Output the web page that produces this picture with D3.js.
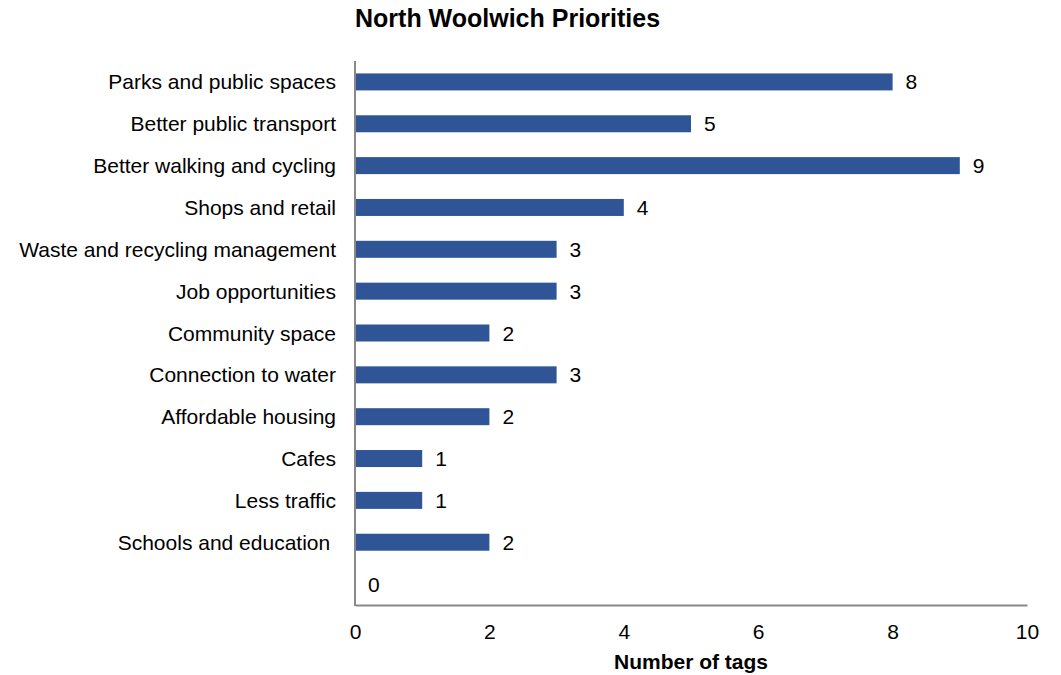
<!DOCTYPE html>
<html>
<head>
<meta charset="utf-8">
<script src="https://cdn.jsdelivr.net/npm/d3@7"></script>
<style>
  html, body { margin: 0; padding: 0; background: #fff; }
  svg text { font-family: "Liberation Sans", Arial, sans-serif; fill: #000; }
</style>
</head>
<body>
<svg id="chart" width="1061" height="675"></svg>
<script>
// Categories top to bottom; the last row is an empty category with a value of 0
const categories = [
  "Parks and public spaces",
  "Better public transport",
  "Better walking and cycling",
  "Shops and retail",
  "Waste and recycling management",
  "Job opportunities",
  "Community space",
  "Connection to water",
  "Affordable housing",
  "Cafes",
  "Less traffic",
  "Schools and education ",
  ""
];
const tagCounts = [8, 5, 9, 4, 3, 3, 2, 3, 2, 1, 1, 2, 0];
const xTicks = [0, 2, 4, 6, 8, 10];

const svg = d3.select("#chart");
const plot = { left: 355, right: 1027, top: 61, bottom: 605 };
const barHeight = 17;
const barColor = "#2F5597";
const axisColor = "#898989";
const fontSize = 21;

const x = d3.scaleLinear().domain([0, 10]).range([plot.left, plot.right]);
const y = d3.scaleBand().domain(d3.range(categories.length)).range([plot.top, plot.bottom]).padding(0);

// Title
svg.append("text")
  .attr("x", plot.left)
  .attr("y", 27)
  .attr("font-size", 25)
  .attr("font-weight", "bold")
  .text("North Woolwich Priorities");

// Bars
svg.append("g").selectAll("rect")
  .data(tagCounts)
  .join("rect")
  .attr("x", x(0))
  .attr("y", (d, i) => y(i) + y.bandwidth() / 2 - barHeight / 2)
  .attr("width", d => x(d) - x(0))
  .attr("height", barHeight)
  .attr("fill", barColor);

// Value labels
svg.append("g").selectAll("text")
  .data(tagCounts)
  .join("text")
  .attr("x", d => x(d) + 13)
  .attr("y", (d, i) => y(i) + y.bandwidth() / 2)
  .attr("dy", "0.36em")
  .attr("font-size", fontSize)
  .text(d => d);

// Category labels
svg.append("g").selectAll("text")
  .data(categories)
  .join("text")
  .attr("x", 336)
  .attr("y", (d, i) => y(i) + y.bandwidth() / 2)
  .attr("dy", "0.36em")
  .attr("text-anchor", "end")
  .attr("font-size", fontSize)
  .style("white-space", "pre")
  .text(d => d);

// X axis
const xAxis = d3.axisBottom(x).tickValues(xTicks).tickSize(0).tickPadding(19);
const gx = svg.append("g")
  .attr("transform", `translate(0,${plot.bottom})`)
  .call(xAxis);
gx.select(".domain").attr("stroke", axisColor).attr("stroke-width", 2);
gx.selectAll(".tick text")
  .attr("font-size", fontSize)
  .attr("font-family", "Liberation Sans, Arial, sans-serif")
  .attr("fill", "#000");

// Y axis line
svg.append("line")
  .attr("x1", plot.left).attr("x2", plot.left)
  .attr("y1", plot.top).attr("y2", plot.bottom + 1)
  .attr("stroke", axisColor)
  .attr("stroke-width", 2);

// X axis title
svg.append("text")
  .attr("x", x(5))
  .attr("y", 669)
  .attr("text-anchor", "middle")
  .attr("font-size", fontSize)
  .attr("font-weight", "bold")
  .text("Number of tags");
</script>
</body>
</html>
